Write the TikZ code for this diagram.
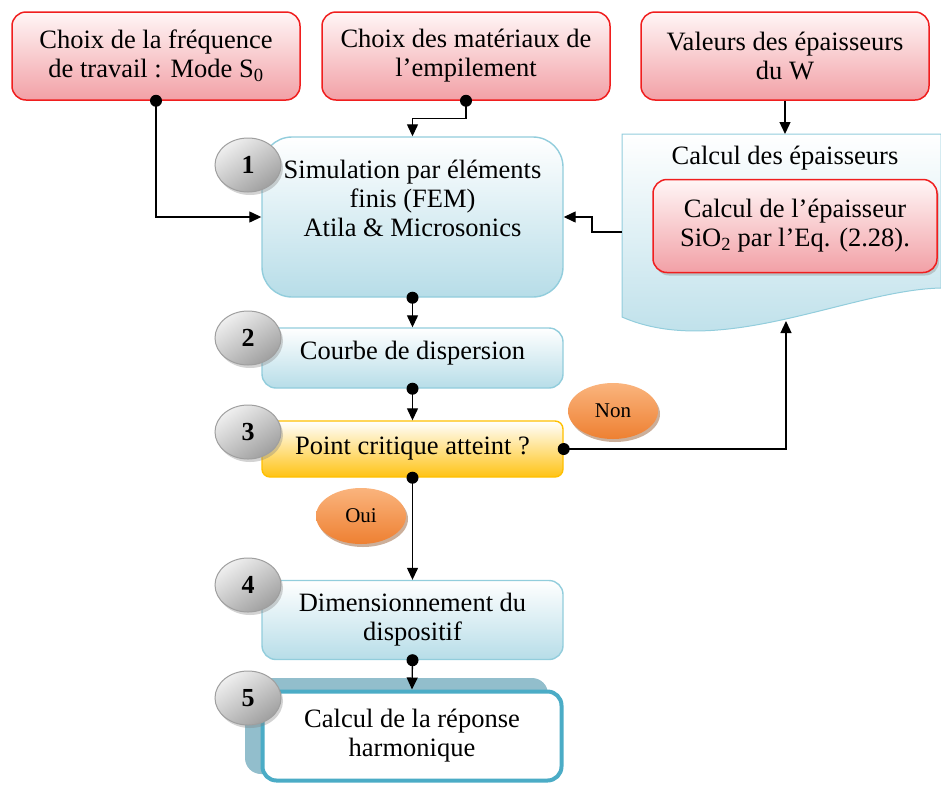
\documentclass[tikz,border=0pt]{standalone}
\usepackage{fontspec}
\setmainfont{Liberation Serif}
\usetikzlibrary{arrows.meta,shadows,shapes.geometric,calc}
\definecolor{redborder}{RGB}{240,30,30}
\definecolor{redtop}{RGB}{255,246,246}
\definecolor{redbot}{RGB}{242,160,166}
\definecolor{blueborder}{RGB}{146,205,220}
\definecolor{bluebot}{RGB}{183,221,232}
\definecolor{yelborder}{RGB}{255,192,0}
\definecolor{yelbot}{RGB}{255,195,20}
\definecolor{orangetop}{RGB}{250,180,125}
\definecolor{orangebot}{RGB}{238,128,50}
\definecolor{harmborder}{RGB}{75,172,198}
\definecolor{shadowblue}{RGB}{146,190,204}
\tikzset{
  base/.style={align=center, font=\fontsize{26.5}{29}\selectfont, inner sep=0pt},
  redbox/.style={base, draw=redborder, line width=1.5pt, rounded corners=14pt,
    top color=redtop, bottom color=redbot, minimum width=288pt, minimum height=88pt},
  bluebox/.style={base, draw=blueborder, line width=1.4pt, rounded corners=14pt,
    top color=white, bottom color=bluebot, minimum width=301pt},
  yelbox/.style={base, draw=yelborder, line width=1.4pt, rounded corners=8pt,
    top color=white, bottom color=yelbot, minimum width=301pt, minimum height=56pt},
  harmbox/.style={base, draw=harmborder, line width=4pt, rounded corners=14pt,
    fill=white, minimum width=299pt, minimum height=89pt},
  numcirc/.style={ellipse, draw=gray!75, line width=1pt, minimum width=66pt, minimum height=54pt,
    inner sep=0pt, top color=gray!12, bottom color=gray!75, shading angle=35,
    font=\fontsize{26}{29}\selectfont\bfseries,
    drop shadow={shadow xshift=2pt, shadow yshift=-3pt, opacity=.35}},
  answer/.style={ellipse, minimum width=90pt, minimum height=56pt, inner sep=0pt,
    top color=orangetop, bottom color=orangebot, font=\fontsize{21}{24}\selectfont,
    drop shadow={shadow xshift=2pt, shadow yshift=-3pt, opacity=.45, fill=orangebot!60!black}},
  conn/.style={line width=1.3pt, -{Triangle[length=12pt,width=11pt]}},
  plain/.style={line width=1.3pt}
}
\newcommand{\dotat}[1]{\fill (#1) circle (6pt);}
\begin{document}
\begin{tikzpicture}[x=1pt,y=-1pt]
\useasboundingbox (0,0) rectangle (941,785);

% top boxes
\node[redbox] (freq) at (156,56) {Choix de la fréquence\\de travail : Mode S\textsubscript{0}};
\node[redbox] (mat) at (466,56) {Choix des matériaux de\\l’empilement};
\node[redbox] (wth) at (785,56) {Valeurs des épaisseurs\\du W};

% document shape
\path[draw=blueborder, line width=1pt, top color=white, bottom color=bluebot]
  (622,134) -- (941,134) -- (941,288) .. controls (850,290) and (720,360) .. (622,317) -- cycle;
\node[base] (doctitle) at (785,158) {Calcul des épaisseurs};
\node[redbox, minimum width=284pt, minimum height=93pt,
  drop shadow={shadow xshift=2pt, shadow yshift=-3pt, opacity=.35}] (sio) at (795,226)
  {Calcul de l’épaisseur\\SiO\textsubscript{2} par l’Eq. (2.28).};
\coordinate (docTop) at (785,134);
\coordinate (docLeft) at (622,232);
\coordinate (docBot) at (786,321);

% main chain
\node[bluebox, minimum height=160pt, rounded corners=30pt] (sim) at (412.5,217) {};
\node[base] (simtext) at (412.5,198) {Simulation par éléments\\finis (FEM)\\Atila \& Microsonics};
\node[bluebox, minimum height=60pt] (disp) at (412.5,358) {};
\node[base] (disptext) at (412.5,353) {Courbe de dispersion};
\node[yelbox] (crit) at (412.5,449) {Point critique atteint ?};
\node[bluebox, minimum height=79pt] (dim) at (412.5,620) {Dimensionnement du\\dispositif};
\fill[shadowblue, rounded corners=16pt] (245,678) rectangle (548,774);
\node[harmbox] (harm) at (412,736) {Calcul de la réponse\\harmonique};

% connectors
\draw[conn] (freq.south) |- (sim.west);
\draw[conn] (mat.south) -- ++(0,18) -| (sim.north);
\draw[conn] (wth.south) -- (docTop);
\draw[conn] (docLeft) -- ++(-30,0) |- (sim.east);
\draw[conn] (sim.south) -- (disp.north);
\draw[conn] (disp.south) -- (crit.north);
\draw[conn] (crit.east) -| (docBot);
\draw[conn] (crit.south) -- (dim.north);
\draw[conn] (dim.south) -- (harm.north);
\dotat{freq.south}
\dotat{mat.south}
\dotat{sim.south}
\dotat{disp.south}
\dotat{crit.east}
\dotat{crit.south}
\dotat{dim.south}

% answers
\node[answer] (non) at (613,411) {Non};
\node[answer] (oui) at (361,516) {Oui};

% numbers
\node[numcirc] (n1) at (248,165) {1};
\node[numcirc] (n2) at (248,338) {2};
\node[numcirc] (n3) at (248,432) {3};
\node[numcirc] (n4) at (248,585) {4};
\node[numcirc] (n5) at (248,698) {5};
\end{tikzpicture}
\end{document}
